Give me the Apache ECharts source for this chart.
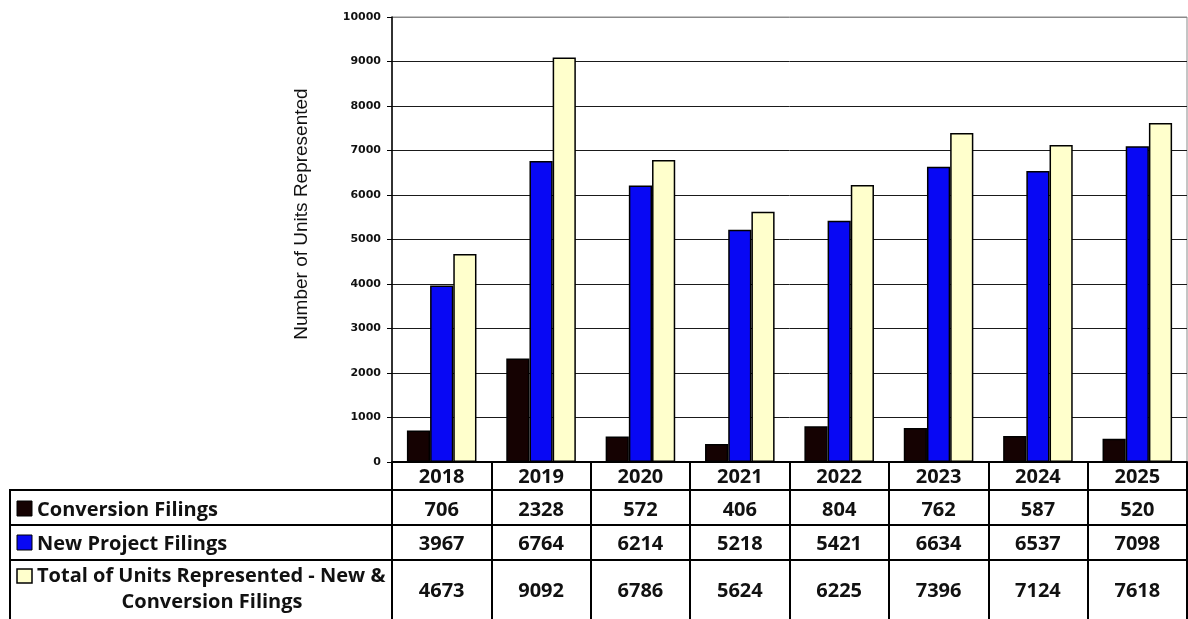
<!DOCTYPE html>
<html>
<head>
<meta charset="utf-8">
<script src="https://cdn.jsdelivr.net/npm/echarts@6/dist/echarts.min.js"></script>
<style>html,body{margin:0;padding:0;background:#fff}#c{width:1188px;height:619px}</style>
</head>
<body>
<div id="c"></div>
<script>
const years = ['2018','2019','2020','2021','2022','2023','2024','2025'];
const conversion = [706, 2328, 572, 406, 804, 762, 587, 520];
const newProject = [3967, 6764, 6214, 5218, 5421, 6634, 6537, 7098];
const total = [4673, 9092, 6786, 5624, 6225, 7396, 7124, 7618];
const seriesNames = ['Conversion Filings', 'New Project Filings', 'Total of Units Represented - New & Conversion Filings'];
const yTicks = [0,1000,2000,3000,4000,5000,6000,7000,8000,9000,10000];
const colors = ['#150202', '#0808f4', '#ffffcc'];

const chart = echarts.init(document.getElementById('c'));
const tableFont = {fontFamily: 'Open Sans', fontWeight: 'bold', fontSize: 20, color: '#111'};
const tFont = 'bold 20px "Open Sans"';
const gridLeft = 392, gridRight = 1, gridTop = 17, gridBottom = 157;
const rowLines = [490, 525, 560];

function tableAxis(offset, values, margin) {
  return {
    type: 'category', data: years, position: 'bottom', offset: offset,
    axisLine: {show: true, lineStyle: {color: '#000', width: 2}},
    axisTick: {show: false},
    axisLabel: Object.assign({interval: 0, margin: margin, formatter: (v, i) => String(values[i])}, tableFont)
  };
}

const splitColors = yTicks.map((t, i) => i === yTicks.length - 1 ? '#8a8a8a' : '#1a1a1a');

const option = {
  animation: false,
  backgroundColor: '#fff',
  grid: {left: gridLeft, right: gridRight, top: gridTop, bottom: gridBottom, show: true, borderColor: '#8a8a8a', borderWidth: 1},
  xAxis: [
    {
      type: 'category', data: years, position: 'bottom',
      axisLine: {show: true, lineStyle: {color: '#000', width: 2}},
      axisTick: {show: true, length: 157, alignWithLabel: false, interval: 0, lineStyle: {color: '#000', width: 2}},
      axisLabel: Object.assign({interval: 0, margin: 5}, tableFont)
    },
    tableAxis(28, conversion, 10),
    tableAxis(63, newProject, 9),
    tableAxis(98, total, 21)
  ],
  yAxis: {
    type: 'value', min: 0, max: 10000, interval: 1000,
    axisLine: {show: true, lineStyle: {color: '#000', width: 1.5}},
    axisTick: {show: true, length: 5, lineStyle: {color: '#000'}},
    axisLabel: {margin: 11, fontFamily: 'DejaVu Sans', fontWeight: 'bold', fontSize: 11, color: '#111', formatter: v => String(v)},
    splitLine: {show: true, lineStyle: {color: splitColors, width: 1}}
  },
  series: [
    {name: seriesNames[0], type: 'bar', data: conversion, barGap: '0%', barCategoryGap: '30%',
     itemStyle: {color: colors[0], borderColor: '#000', borderWidth: 1.5}},
    {name: seriesNames[1], type: 'bar', data: newProject, barGap: '0%', barCategoryGap: '30%',
     itemStyle: {color: colors[1], borderColor: '#000', borderWidth: 1.5}},
    {name: seriesNames[2], type: 'bar', data: total, barGap: '0%', barCategoryGap: '30%',
     itemStyle: {color: colors[2], borderColor: '#000', borderWidth: 1.5}}
  ],
  graphic: [
    {type: 'text', x: 302, y: 214, rotation: Math.PI / 2, style: {text: 'Number of Units Represented', x: 0, y: 0, align: 'center', verticalAlign: 'middle', font: '19px "Liberation Sans"', fill: '#111'}},
    // left block of the data table
    {type: 'line', shape: {x1: 10, y1: rowLines[0], x2: gridLeft, y2: rowLines[0]}, style: {stroke: '#000', lineWidth: 2}},
    {type: 'line', shape: {x1: 10, y1: rowLines[1], x2: gridLeft, y2: rowLines[1]}, style: {stroke: '#000', lineWidth: 2}},
    {type: 'line', shape: {x1: 10, y1: rowLines[2], x2: gridLeft, y2: rowLines[2]}, style: {stroke: '#000', lineWidth: 2}},
    {type: 'line', shape: {x1: 10, y1: rowLines[0] - 1, x2: 10, y2: 619}, style: {stroke: '#000', lineWidth: 2}},
    {type: 'rect', shape: {x: 17, y: 501, width: 15, height: 15}, style: {fill: colors[0], stroke: '#000', lineWidth: 1}},
    {type: 'rect', shape: {x: 17, y: 535, width: 15, height: 15}, style: {fill: colors[1], stroke: '#000', lineWidth: 1}},
    {type: 'rect', shape: {x: 17, y: 569, width: 15, height: 14}, style: {fill: colors[2], stroke: '#000', lineWidth: 1.5}},
    {type: 'text', x: 37, y: 510, style: {text: seriesNames[0], verticalAlign: 'middle', font: tFont, fill: '#111'}},
    {type: 'text', x: 37, y: 544, style: {text: seriesNames[1], verticalAlign: 'middle', font: tFont, fill: '#111'}},
    {type: 'text', x: 37, y: 576, style: {text: 'Total of Units Represented - New &', verticalAlign: 'middle', font: tFont, fill: '#111'}},
    {type: 'text', x: 212, y: 602, style: {text: 'Conversion Filings', align: 'center', verticalAlign: 'middle', font: tFont, fill: '#111'}}
  ]
};
chart.setOption(option);
</script>
</body>
</html>
